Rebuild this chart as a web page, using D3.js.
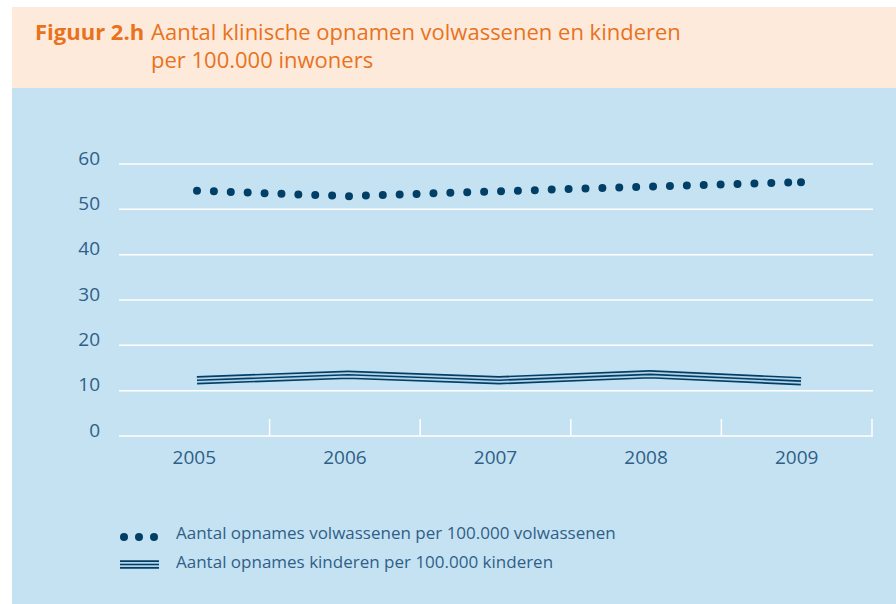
<!DOCTYPE html>
<html>
<head>
<meta charset="utf-8">
<script src="https://cdn.jsdelivr.net/npm/d3@7"></script>
<style>
  body { margin: 0; background: #fff; }
  svg { display: block; font-family: "Open Sans", "Liberation Sans", sans-serif; }
</style>
</head>
<body>
<svg id="chart" width="896" height="604"></svg>
<script>
// data
var years = ["2005", "2006", "2007", "2008", "2009"]
var volwassenen = [54.1, 52.9, 54.0, 55.0, 56.0]
var kinderen = [12.3, 13.5, 12.3, 13.6, 12.1]
var yTicks = [0, 10, 20, 30, 40, 50, 60]
var legendLabels = [
  "Aantal opnames volwassenen per 100.000 volwassenen",
  "Aantal opnames kinderen per 100.000 kinderen"
]

var svg = d3.select("#chart")
var navy = "#023f66"
var textBlue = "#2f5f87"
var bg = "#c5e2f3"

// background panels
svg.append("rect").attr("x", 12).attr("y", 7).attr("width", 884).attr("height", 81).attr("fill", "#fdeadb")
svg.append("rect").attr("x", 12).attr("y", 88).attr("width", 884).attr("height", 516).attr("fill", bg)

// title
var title = svg.append("g").attr("fill", "#e9721d").style("font-size", "22px")
title.append("text").attr("x", 35).attr("y", 40).style("font-weight", "bold").text("Figuur 2.h")
title.append("text").attr("x", 151).attr("y", 40).text("Aantal klinische opnamen volwassenen en kinderen")
title.append("text").attr("x", 151).attr("y", 68).text("per 100.000 inwoners")

// scales
var x = d3.scaleBand().domain(years).range([119, 872])
var xp = d3.scalePoint().domain(years).range([197, 801])
var y = d3.scaleLinear().domain([0, 60]).range([436, 164])

// gridlines
svg.append("g").selectAll("line").data(yTicks).enter().append("line")
  .attr("x1", 119).attr("x2", 873)
  .attr("y1", function (d) { return y(d) }).attr("y2", function (d) { return y(d) })
  .attr("stroke", "#fff").attr("stroke-width", 1.5)

// y labels
svg.append("g").selectAll("text").data(yTicks).enter().append("text")
  .attr("x", 100).attr("y", function (d) { return y(d) - 6 })
  .attr("dy", "0.35em").attr("text-anchor", "end")
  .attr("fill", textBlue).style("font-size", "19px")
  .text(function (d) { return d })

// x ticks at band boundaries (not the first)
svg.append("g").selectAll("line").data(years).enter().append("line")
  .attr("x1", function (d) { return x(d) + x.bandwidth() })
  .attr("x2", function (d) { return x(d) + x.bandwidth() })
  .attr("y1", y(0) - 17).attr("y2", y(0))
  .attr("stroke", "#fff").attr("stroke-width", 1.5)

// x labels
svg.append("g").selectAll("text").data(years).enter().append("text")
  .attr("x", function (d) { return x(d) + x.bandwidth() / 2 })
  .attr("y", 457).attr("dy", "0.35em").attr("text-anchor", "middle")
  .attr("fill", textBlue).style("font-size", "19px")
  .text(function (d) { return d })

var line = d3.line()
  .x(function (d, i) { return xp(years[i]) })
  .y(function (d) { return y(d) })

// kinderen: triple line
function tripleLine(g, path) {
  g.append("path").attr("d", path).attr("fill", "none").attr("stroke", navy).attr("stroke-width", 8.5)
  g.append("path").attr("d", path).attr("fill", "none").attr("stroke", "#b3d3e9").attr("stroke-width", 5.2)
  g.append("path").attr("d", path).attr("fill", "none").attr("stroke", navy).attr("stroke-width", 1.6)
}
tripleLine(svg.append("g"), line(kinderen))

// volwassenen: dotted line
svg.append("path").attr("d", line(volwassenen))
  .attr("fill", "none").attr("stroke", navy)
  .attr("stroke-width", 8).attr("stroke-linecap", "round")
  .attr("stroke-dasharray", "0 16.9")
svg.append("circle")
  .attr("cx", xp(years[4])).attr("cy", y(volwassenen[4]))
  .attr("r", 4).attr("fill", navy)

// legend
var legend = svg.append("g")
legend.selectAll("circle").data([124, 139, 154]).enter().append("circle")
  .attr("cx", function (d) { return d }).attr("cy", 537).attr("r", 4).attr("fill", navy)
var lg = legend.append("g")
tripleLine(lg, "M120,564.5H159")
legend.selectAll("text").data(legendLabels).enter().append("text")
  .attr("x", 176).attr("y", function (d, i) { return 533 + i * 29 })
  .attr("dy", "0.35em").attr("fill", textBlue).style("font-size", "17px")
  .text(function (d) { return d })
</script>
</body>
</html>
